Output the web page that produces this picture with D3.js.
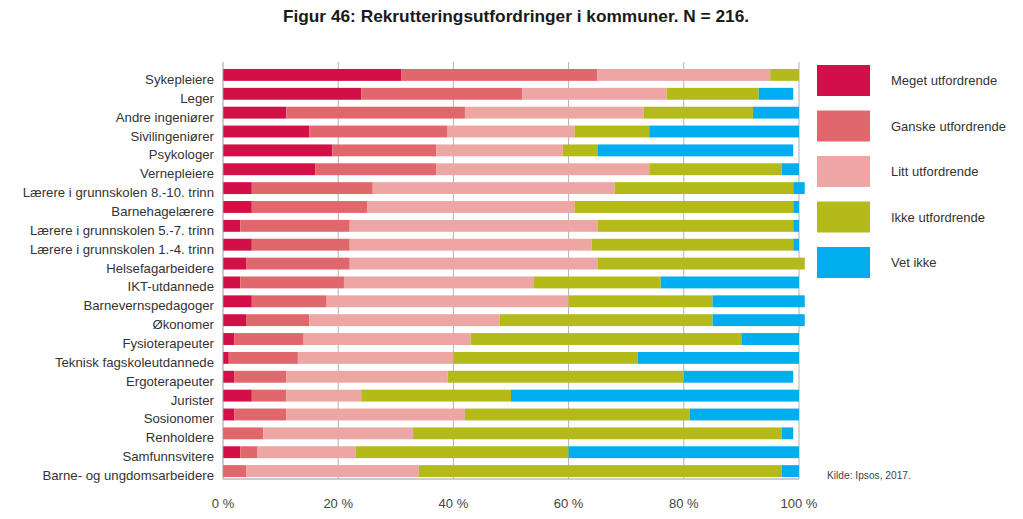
<!DOCTYPE html>
<html><head><meta charset="utf-8">
<script src="https://cdn.jsdelivr.net/npm/d3@7"></script>
<style>
html,body{margin:0;padding:0;background:#fff;}
svg{display:block;font-family:"Liberation Sans",Arial,Helvetica,sans-serif;}
</style></head>
<body>
<svg id="chart" width="1023" height="519"></svg>
<script>
const title = "Figur 46: Rekrutteringsutfordringer i kommuner. N = 216.";
const source = "Kilde: Ipsos, 2017.";
const categories = ["Sykepleiere","Leger","Andre ingeniører","Sivilingeniører","Psykologer","Vernepleiere","Lærere i grunnskolen 8.-10. trinn","Barnehagelærere","Lærere i grunnskolen 5.-7. trinn","Lærere i grunnskolen 1.-4. trinn","Helsefagarbeidere","IKT-utdannede","Barnevernspedagoger","Økonomer","Fysioterapeuter","Teknisk fagskoleutdannede","Ergoterapeuter","Jurister","Sosionomer","Renholdere","Samfunnsvitere","Barne- og ungdomsarbeidere"];
const seriesNames = ["Meget utfordrende","Ganske utfordrende","Litt utfordrende","Ikke utfordrende","Vet ikke"];
const meget  = [31,24,11,15,19,16,5,5,3,5,4,3,5,4,2,1,2,5,2,0,3,0];
const ganske = [34,28,31,24,18,21,21,20,19,17,18,18,13,11,12,12,9,6,9,7,3,4];
const litt   = [30,25,31,22,22,37,42,36,43,42,43,33,42,33,29,27,28,13,31,26,17,30];
const ikke   = [5,16,19,13,6,23,31,38,34,35,36,22,25,37,47,32,41,26,39,64,37,63];
const vetIkke= [0,6,8,26,34,3,2,1,1,1,0,24,16,16,10,28,19,50,19,2,40,3];
const xTicks = [0,20,40,60,80,100];
const colors = ["#d20f46","#e0676c","#eda6a3","#b3ba1a","#00aeef"];

const seriesValues = [meget, ganske, litt, ikke, vetIkke];
const keys = seriesNames;
const table = categories.map((c,i)=>{
  const row = {cat:c};
  keys.forEach((k,j)=>row[k]=seriesValues[j][i]);
  return row;
});
const stacked = d3.stack().keys(keys)(table);

const svg = d3.select("#chart");
const plotLeft = 223, plotRight = 799, plotTop = 62, plotBottom = 479;
const x = d3.scaleLinear().domain([0,100]).range([plotLeft,plotRight]);
const y = d3.scaleBand().domain(categories).range([plotTop, 484]).paddingInner(0.37).paddingOuter(0.37);
const color = d3.scaleOrdinal().domain(keys).range(colors);

// title
svg.append("text").attr("x",516).attr("y",22).attr("text-anchor","middle")
  .attr("font-size","17.3px").attr("font-weight","bold").attr("fill","#1a1a1a").text(title);

// gridlines
svg.append("g").selectAll("line").data(xTicks.slice(1)).join("line")
  .attr("x1",d=>x(d)).attr("x2",d=>x(d)).attr("y1",plotTop).attr("y2",plotBottom)
  .attr("stroke","#b3b3b3").attr("stroke-width",1);

// bars
svg.append("g").selectAll("g").data(stacked).join("g")
  .attr("fill",d=>color(d.key))
  .selectAll("rect").data(d=>d).join("rect")
  .attr("x",d=>x(d[0])).attr("width",d=>x(d[1])-x(d[0]))
  .attr("y",d=>y(d.data.cat)).attr("height",y.bandwidth());

// axes lines
svg.append("line").attr("x1",plotLeft).attr("x2",plotLeft).attr("y1",plotTop).attr("y2",plotBottom).attr("stroke","#9a9a9a");
svg.append("line").attr("x1",plotLeft).attr("x2",plotRight).attr("y1",plotBottom).attr("y2",plotBottom).attr("stroke","#9a9a9a");

// y labels
svg.append("g").selectAll("text").data(categories).join("text")
  .attr("x",214).attr("y",d=>y(d)+y.bandwidth()/2+9)
  .attr("text-anchor","end").attr("font-size","13.2px").attr("fill","#333").text(d=>d);

// x labels
svg.append("g").selectAll("text").data(xTicks).join("text")
  .attr("x",d=>x(d)).attr("y",508).attr("text-anchor","middle")
  .attr("font-size","13px").attr("fill","#444").text(d=>d+" %");

// legend
const lg = svg.append("g");
keys.forEach((k,i)=>{
  const yy = 65 + i*45.5;
  lg.append("rect").attr("x",817).attr("y",yy).attr("width",53).attr("height",31).attr("fill",color(k));
  lg.append("text").attr("x",891).attr("y",yy+20).attr("font-size","13px").attr("fill","#333").text(k);
});

// source
svg.append("text").attr("x",827).attr("y",479).attr("font-size","10.2px").attr("fill","#444").text(source);
</script>
</body></html>
